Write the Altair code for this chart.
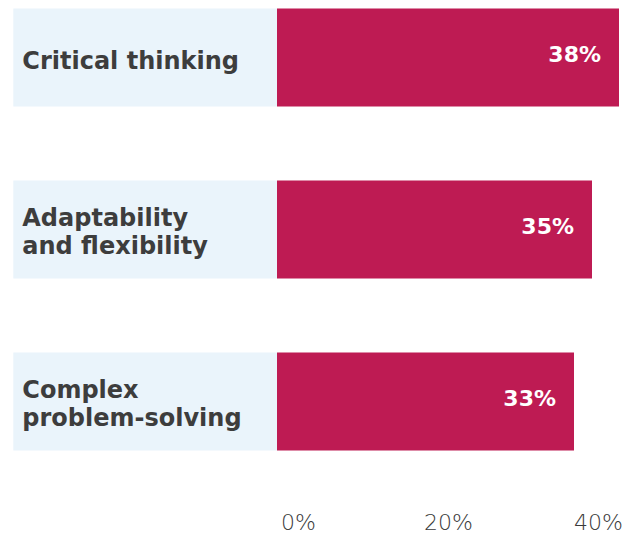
import altair as alt
import pandas as pd

categories = ["Critical thinking", "Adaptability\nand flexibility", "Complex\nproblem-solving"]
line_counts = [1, 2, 2]
values = [38, 35, 33]
value_labels = ["38%", "35%", "33%"]
tick_values = [0, 20, 40]

df = pd.DataFrame({"cat": categories, "nlines": line_counts, "value": values, "vlabel": value_labels})
ticks = pd.DataFrame({"tick": tick_values})

BAR = "#BE1B53"
BAND = "#EAF4FB"
TXT = "#3D3D3D"

xs = alt.Scale(domain=[0, 40], range=[269, 629], zero=True, nice=False)
ys = alt.Scale(domain=categories, range=[-36.5, 479.5], paddingInner=0.43, paddingOuter=0.215)
ye = alt.Y("cat:N", scale=ys, sort=categories, axis=None)

base = alt.Chart(df)

band = base.mark_bar(color=BAND).encode(
    x=alt.X(datum=-29.3, scale=xs, axis=None), x2=alt.datum(0), y=ye
)
bars = base.mark_bar(color=BAR).encode(
    x=alt.X("value:Q", scale=xs, axis=None), y=ye
)
label_style = dict(align="left", baseline="middle", font="DejaVu Sans", fontWeight="bold",
                   fontSize=24, color=TXT, lineBreak="\n", lineHeight=28)
labels1 = base.transform_filter("datum.nlines == 1").mark_text(dy=4, **label_style).encode(
    x=alt.X(datum=-28.3, scale=xs, axis=None), y=ye, text="cat:N")
labels2 = base.transform_filter("datum.nlines == 2").mark_text(dy=-11, **label_style).encode(
    x=alt.X(datum=-28.3, scale=xs, axis=None), y=ye, text="cat:N")
vals = base.mark_text(
    align="right", baseline="middle", font="DejaVu Sans", fontWeight="bold",
    fontSize=22, color="white", dx=-18, dy=-3
).encode(x=alt.X("value:Q", scale=xs, axis=None), y=ye, text="vlabel:N")

inner = alt.layer(band, bars, labels1, labels2, vals)

axis_layer = alt.Chart(ticks).mark_point(opacity=0).encode(
    x=alt.X(
        "tick:Q",
        scale=alt.Scale(domain=[0, 40], range=[290, 590], nice=False),
        axis=alt.Axis(
            values=tick_values, labelExpr="datum.value + '%'", title=None,
            domain=False, ticks=False, grid=False, labelFont="DejaVu Sans",
            labelFontSize=22, labelColor="#3A3A3A", labelFontWeight=300,
            labelPadding=4, labelFlush=False,
        ),
    )
)

chart = alt.layer(inner, axis_layer).resolve_scale(x="independent").properties(
    width=616, height=500,
    autosize=alt.AutoSizeParams(type="none"),
    padding={"left": 0, "top": 0, "right": 0, "bottom": 25},
    view=alt.ViewBackground(stroke=None, strokeWidth=0),
).configure_view(stroke=None, strokeWidth=0).configure_axis(
    domain=False, grid=False, ticks=False
).configure(background="white")

chart.save("out.html", embed_options={"renderer": "svg", "actions": False})
